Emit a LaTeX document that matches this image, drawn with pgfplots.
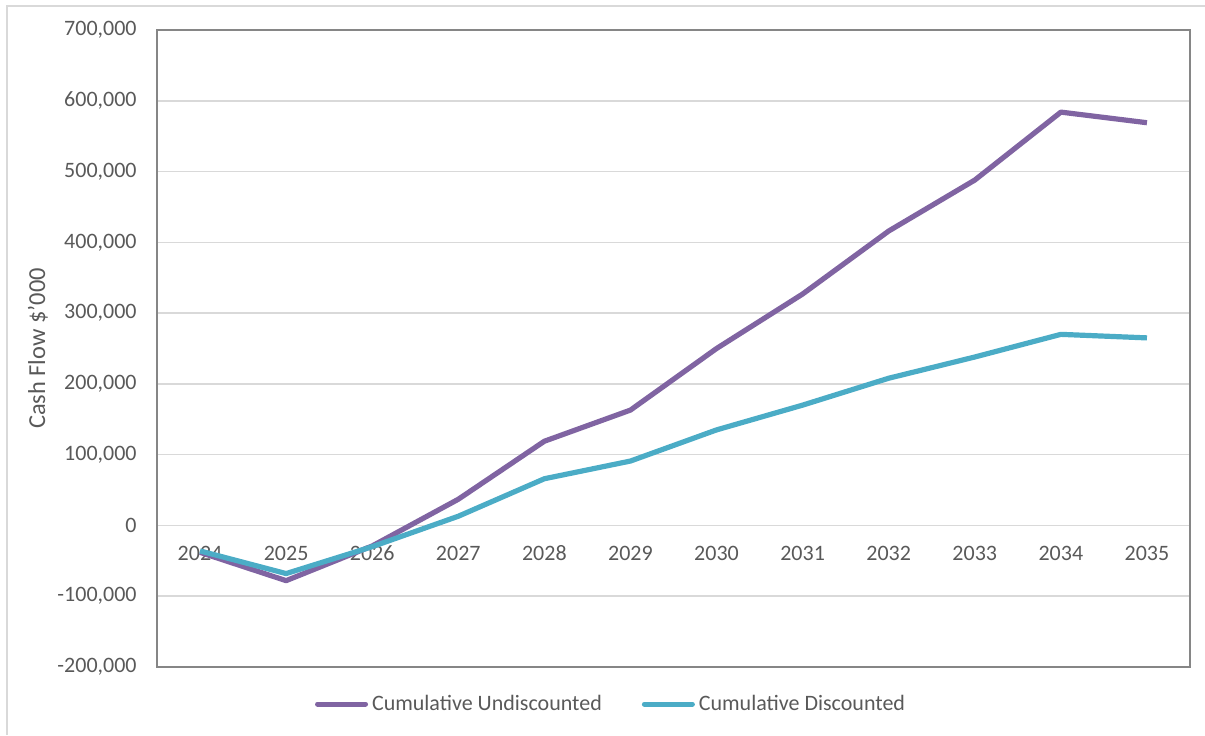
\documentclass[border=0pt]{standalone}
\usepackage{pgfplots}
\pgfplotsset{compat=1.18}
\usepackage{fontspec}
\setmainfont{Carlito}
\definecolor{cpurple}{HTML}{8064A2}
\definecolor{ccyan}{HTML}{4BACC6}
\definecolor{ctext}{HTML}{595959}
\definecolor{cgrid}{HTML}{D9D9D9}
\definecolor{cbox}{HTML}{868686}
\begin{document}
\begin{tikzpicture}
\useasboundingbox (0,0) rectangle (602.5pt,367.5pt);
\draw[cgrid, line width=1pt] (3.5pt,0) -- (3.5pt,364.5pt) -- (602.5pt,364.5pt);
\begin{axis}[
  at={(78.5pt,34pt)}, anchor=south west,
  scale only axis, width=516.5pt, height=318.5pt,
  xmin=-0.5, xmax=11.5, ymin=-200000, ymax=700000,
  xtick={0,...,11},
  xticklabels={2024,2025,2026,2027,2028,2029,2030,2031,2032,2033,2034,2035},
  ytick={-200000,-100000,0,100000,200000,300000,400000,500000,600000,700000},
  scaled y ticks=false,
  /pgf/number format/fixed,
  /pgf/number format/1000 sep={,},
  /pgf/number format/assume math mode=true,
  major tick length=0pt,
  ymajorgrids, grid style={cgrid, line width=0.75pt},
  axis line style={cbox, line width=0.75pt},
  tick label style={font=\fontsize{11}{13}\selectfont, text=ctext},
  xticklabel style={anchor=center, yshift=57pt},
  yticklabel style={anchor=east, inner sep=0pt, xshift=-10pt},
  ylabel={Cash Flow \$'000},
  ylabel style={at={(axis description cs:-0.1152,0.5)}, anchor=center, rotate=0, font=\fontsize{12.2}{14}\selectfont, text=ctext},
  legend columns=2,
  legend style={at={(axis description cs:0.4405,-0.0581)}, anchor=center, draw=none, fill=none,
    font=\fontsize{11}{13}\selectfont, text=ctext, inner sep=0pt,
    /tikz/every even column/.append style={column sep=18pt}},
  legend cell align=left,
  legend image code/.code={\draw[#1, line width=2.5pt, line cap=round] (0pt,0pt) -- (24pt,0pt);},
  clip=false,
]
\addplot[cpurple, line width=2.6pt, line join=round] coordinates {
(0,-38000) (1,-78000) (2,-29000) (3,37000) (4,119000) (5,163000)
(6,250000) (7,327000) (8,416000) (9,488000) (10,584000) (11,569000)};
\addlegendentry{Cumulative Undiscounted}
\addplot[ccyan, line width=2.6pt, line join=round] coordinates {
(0,-36000) (1,-68000) (2,-30000) (3,13000) (4,66000) (5,91000)
(6,135000) (7,170000) (8,208000) (9,238000) (10,270000) (11,265000)};
\addlegendentry{Cumulative Discounted}
\end{axis}
\end{tikzpicture}
\end{document}
